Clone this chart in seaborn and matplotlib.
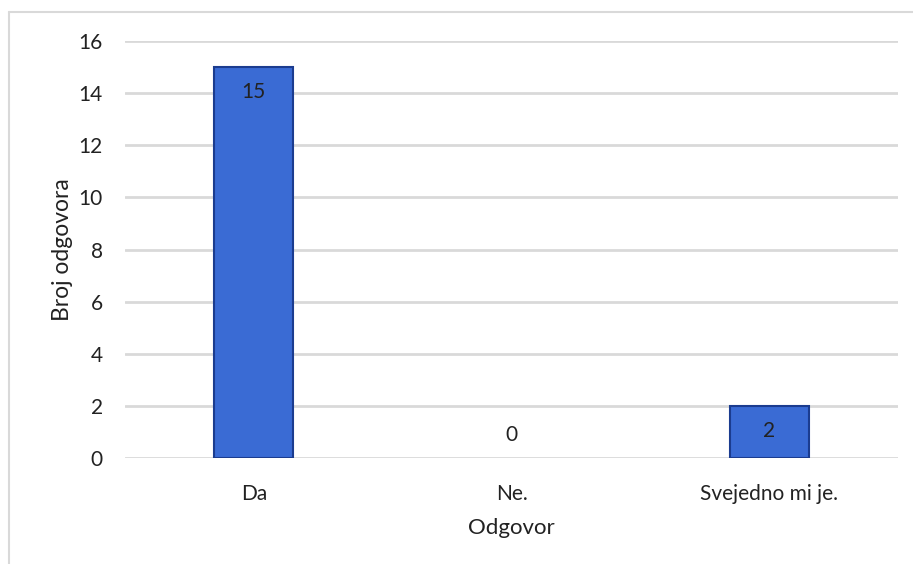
import matplotlib
matplotlib.use("Agg")
import matplotlib.pyplot as plt
import seaborn as sns
import pandas as pd
from matplotlib.lines import Line2D

categories = ["Da", "Ne.", "Svejedno mi je."]
values = [15, 0, 2]
y_ticks = [0, 2, 4, 6, 8, 10, 12, 14, 16]
x_label = "Odgovor"
y_label = "Broj odgovora"

sns.set_theme(style="white")
plt.rcParams['font.family'] = ['Lato', 'DejaVu Sans']

df = pd.DataFrame({"Odgovor": categories, "Broj": values})

fig = plt.figure(figsize=(9.13, 5.64), dpi=100)
ax = fig.add_axes([125/913, 1-458/564, (898-125)/913, (458-41)/564])

sns.barplot(data=df, x="Odgovor", y="Broj", ax=ax, color="#3a6bd4",
            width=0.307, edgecolor="#1b3c8f", linewidth=1.5, saturation=1, zorder=3)
for p, v in zip(ax.patches, values):
    if v == 0:
        p.set_linewidth(0)

ax.set_ylim(0, 16)
ax.set_yticks(y_ticks)
ax.set_xlim(-0.5, 2.5)
ax.yaxis.grid(True, color="#d9d9d9", linewidth=2, zorder=0)
ax.set_axisbelow(True)
for s in ax.spines.values():
    s.set_visible(False)
ax.tick_params(axis="both", length=0, labelsize=15, colors="#222222")
ax.tick_params(axis="y", pad=16)
ax.tick_params(axis="x", pad=19)
ax.set_xlabel(x_label, fontsize=16, color="#222222", labelpad=10)
ax.set_ylabel(y_label, fontsize=16.5, color="#222222", labelpad=4)

for i, v in enumerate(values):
    off = -25 if v > 0 else 23
    ax.annotate(str(v), xy=(i, v), xytext=(0, off*0.72), textcoords="offset points",
                ha="center", va="center", fontsize=15, color="#222222", zorder=5)

# outer chart frame (cropped)
fig.add_artist(Line2D([9/913, 1], [1-12/564, 1-12/564], color="#d9d9d9", linewidth=1.5,
                      transform=fig.transFigure))
fig.add_artist(Line2D([9/913, 9/913], [1-12/564, 0], color="#d9d9d9", linewidth=1.5,
                      transform=fig.transFigure))

fig.savefig("out.png", dpi=100)
